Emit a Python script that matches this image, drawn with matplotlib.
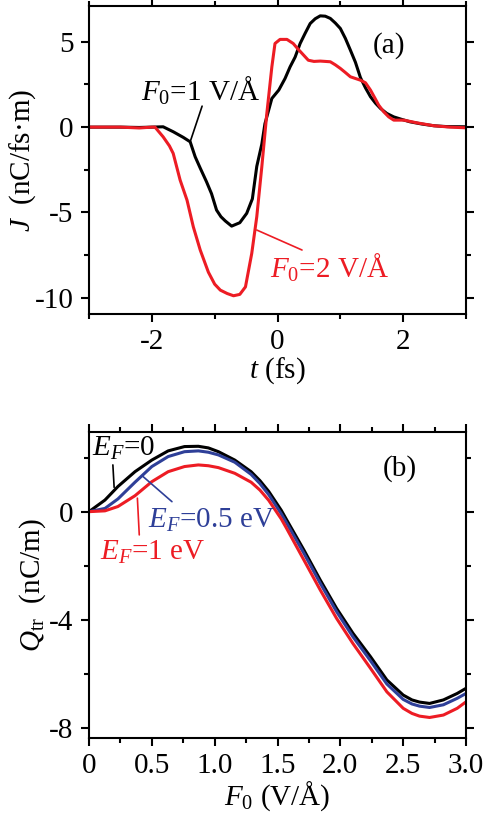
import matplotlib
matplotlib.use('Agg')
import matplotlib.pyplot as plt
from matplotlib.ticker import MultipleLocator

plt.rcParams['font.family'] = ['Liberation Serif', 'DejaVu Serif']
plt.rcParams['mathtext.fontset'] = 'custom'
plt.rcParams['mathtext.rm'] = 'Liberation Serif'
plt.rcParams['mathtext.it'] = 'Liberation Serif:italic'
plt.rcParams['axes.unicode_minus'] = False

# (a) current J(t), nC/fs.m
t_black = [-3.0, -2.5, -2.2, -2.0, -1.82, -1.66, -1.5, -1.39, -1.31, -1.23, -1.13, -1.05,
           -0.97, -0.9, -0.83, -0.73, -0.6, -0.49, -0.4, -0.33, -0.25, -0.2, -0.09, 0.02,
           0.12, 0.2, 0.28, 0.36, 0.44, 0.52, 0.6, 0.68, 0.76, 0.84, 0.92, 1.0, 1.08,
           1.16, 1.24, 1.32, 1.4, 1.48, 1.56, 1.64, 1.74, 1.85, 1.98, 2.11, 2.3, 2.49,
           2.7, 3.0]
J_black = [0.0, 0.0, -0.02, 0.0, 0.02, -0.27, -0.6, -0.86, -1.74, -2.4, -3.2, -3.9,
           -4.86, -5.25, -5.5, -5.8, -5.6, -5.05, -4.2, -2.3, -1.0, 0.2, 1.68, 2.17,
           2.85, 3.53, 4.1, 4.9, 5.5, 6.07, 6.35, 6.52, 6.5, 6.37, 6.1, 5.78, 5.2,
           4.51, 3.8, 2.9, 2.3, 1.78, 1.4, 1.09, 0.8, 0.6, 0.45, 0.31, 0.18, 0.08,
           0.03, 0.02]

t_red = [-3.0, -2.5, -2.2, -2.0, -1.95, -1.82, -1.72, -1.66, -1.55, -1.44, -1.34, -1.23,
         -1.1, -1.0, -0.91, -0.8, -0.7, -0.6, -0.51, -0.41, -0.33, -0.25, -0.17, -0.09,
         -0.04, 0.04, 0.15, 0.25, 0.32, 0.39, 0.49, 0.58, 0.68, 0.84, 0.92, 1.0, 1.08,
         1.16, 1.24, 1.32, 1.4, 1.48, 1.55, 1.61, 1.69, 1.77, 1.85, 2.01, 2.22, 2.49,
         2.75, 3.0]
J_red = [0.0, 0.0, -0.05, 0.0, 0.0, -0.57, -1.1, -1.54, -3.1, -4.28, -5.84, -7.2,
         -8.5, -9.2, -9.55, -9.75, -9.88, -9.8, -9.36, -7.4, -5.25, -2.33, 0.8, 3.53,
         4.9, 5.14, 5.14, 4.9, 4.6, 4.32, 3.92, 3.85, 3.87, 3.83, 3.65, 3.44, 3.2,
         2.95, 2.85, 2.75, 2.6, 2.17, 1.7, 1.29, 0.9, 0.6, 0.41, 0.41, 0.25, 0.08,
         0.0, -0.04]

# (b) transferred charge Q_tr(F0), nC/m
F0 = [0.0, 0.127, 0.23, 0.366, 0.5, 0.63, 0.76, 0.87, 0.95, 1.03, 1.16, 1.29, 1.36,
      1.43, 1.53, 1.57, 1.71, 1.84, 1.97, 2.1, 2.24, 2.37, 2.5, 2.57, 2.63, 2.71,
      2.82, 2.93, 3.0]
Q_ef0 = [0.0, 0.43, 0.93, 1.48, 1.91, 2.25, 2.41, 2.42, 2.36, 2.22, 1.91, 1.48, 1.15,
         0.75, 0.05, -0.28, -1.42, -2.53, -3.58, -4.5, -5.37, -6.23, -6.79, -6.97,
         -7.05, -7.1, -6.97, -6.73, -6.54]
Q_ef05 = [0.0, 0.12, 0.47, 1.09, 1.67, 2.04, 2.22, 2.25, 2.2, 2.1, 1.83, 1.38, 1.04,
          0.63, -0.08, -0.4, -1.54, -2.65, -3.7, -4.63, -5.52, -6.38, -6.95, -7.12,
          -7.2, -7.25, -7.15, -6.91, -6.73]
Q_ef1 = [0.0, 0.03, 0.19, 0.59, 1.11, 1.48, 1.67, 1.73, 1.7, 1.63, 1.42, 1.09, 0.8,
         0.42, -0.27, -0.6, -1.79, -2.9, -3.95, -4.88, -5.8, -6.67, -7.28, -7.47,
         -7.57, -7.62, -7.53, -7.28, -7.04]

red = '#ed1c24'
blue = '#2e3f98'
fs = 21

fig = plt.figure(figsize=(4.89, 8.15), dpi=100)
ax1 = fig.add_axes([0.182, 0.6147, 0.771, 0.378])
ax2 = fig.add_axes([0.182, 0.0948, 0.771, 0.3755])

for ax in (ax1, ax2):
    ax.tick_params(which='both', direction='out', top=True, right=True,
                   labelsize=fs, width=1.5, pad=5)
    ax.tick_params(which='major', length=6)
    ax.tick_params(which='minor', length=3.5)
    for s in ax.spines.values():
        s.set_linewidth(1.5)

# panel (a)
ax1.plot(t_black, J_black, color='black', linewidth=2.2)
ax1.plot(t_red, J_red, color=red, linewidth=2.2)
ax1.set_xlim(-3, 3)
ax1.set_ylim(-10.95, 7.1)
ax1.xaxis.set_major_locator(MultipleLocator(2))
ax1.xaxis.set_minor_locator(MultipleLocator(1))
ax1.yaxis.set_major_locator(MultipleLocator(5))
ax1.yaxis.set_minor_locator(MultipleLocator(2.5))
ax1.set_xlabel('$t$ (fs)', fontsize=fs, labelpad=0)
ax1.set_ylabel('$J$  (nC/fs·m)', fontsize=fs)
ax1.yaxis.set_label_coords(-0.135, 0.5)
ax1.text(1.77, 4.8, '(a)', fontsize=fs, ha='center', va='center')
ax1.text(-2.18, 1.55, '$F_0$=1 V/Å', fontsize=fs, ha='left', va='baseline')
ax1.annotate('', xy=(-1.39, -0.86), xytext=(-1.2, 1.23),
             arrowprops=dict(arrowstyle='-', color='black', lw=1.2, shrinkA=0, shrinkB=0))
ax1.text(-0.12, -8.85, '$F_0$=2 V/Å', fontsize=fs, color=red, ha='left', va='baseline')
ax1.annotate('', xy=(-0.33, -6.03), xytext=(0.39, -7.2),
             arrowprops=dict(arrowstyle='-', color=red, lw=1.2, shrinkA=0, shrinkB=0))

# panel (b)
ax2.plot(F0, Q_ef0, color='black', linewidth=2.2)
ax2.plot(F0, Q_ef05, color=blue, linewidth=2.2)
ax2.plot(F0, Q_ef1, color=red, linewidth=2.2)
ax2.set_xlim(0, 3)
ax2.set_ylim(-8.37, 2.96)
ax2.xaxis.set_major_locator(MultipleLocator(0.5))
ax2.xaxis.set_minor_locator(MultipleLocator(0.25))
ax2.yaxis.set_major_locator(MultipleLocator(4))
ax2.yaxis.set_minor_locator(MultipleLocator(2))
ax2.xaxis.set_major_formatter(lambda v, p: '0' if v == 0 else '%.1f' % v)
ax2.set_xlabel('$F_0$ (V/Å)', fontsize=fs, labelpad=0)
ax2.set_ylabel('$Q_{\\mathrm{tr}}$  (nC/m)', fontsize=fs)
ax2.yaxis.set_label_coords(-0.11, 0.5)
ax2.text(2.47, 1.6, '(b)', fontsize=fs, ha='center', va='center')
ax2.text(0.02, 2.05, '$E_F$=0', fontsize=fs, ha='left', va='baseline')
ax2.annotate('', xy=(0.2, 0.9), xytext=(0.19, 1.73),
             arrowprops=dict(arrowstyle='-', color='black', lw=1.2, shrinkA=0, shrinkB=0))
ax2.text(0.47, -0.6, '$E_F$=0.5 eV', fontsize=fs, color=blue, ha='left', va='baseline')
ax2.annotate('', xy=(0.43, 1.3), xytext=(0.66, 0.37),
             arrowprops=dict(arrowstyle='-', color=blue, lw=1.2, shrinkA=0, shrinkB=0))
ax2.text(0.09, -1.8, '$E_F$=1 eV', fontsize=fs, color=red, ha='left', va='baseline')
ax2.annotate('', xy=(0.385, 0.5), xytext=(0.4, -0.86),
             arrowprops=dict(arrowstyle='-', color=red, lw=1.2, shrinkA=0, shrinkB=0))

fig.savefig('out.png', dpi=100)
